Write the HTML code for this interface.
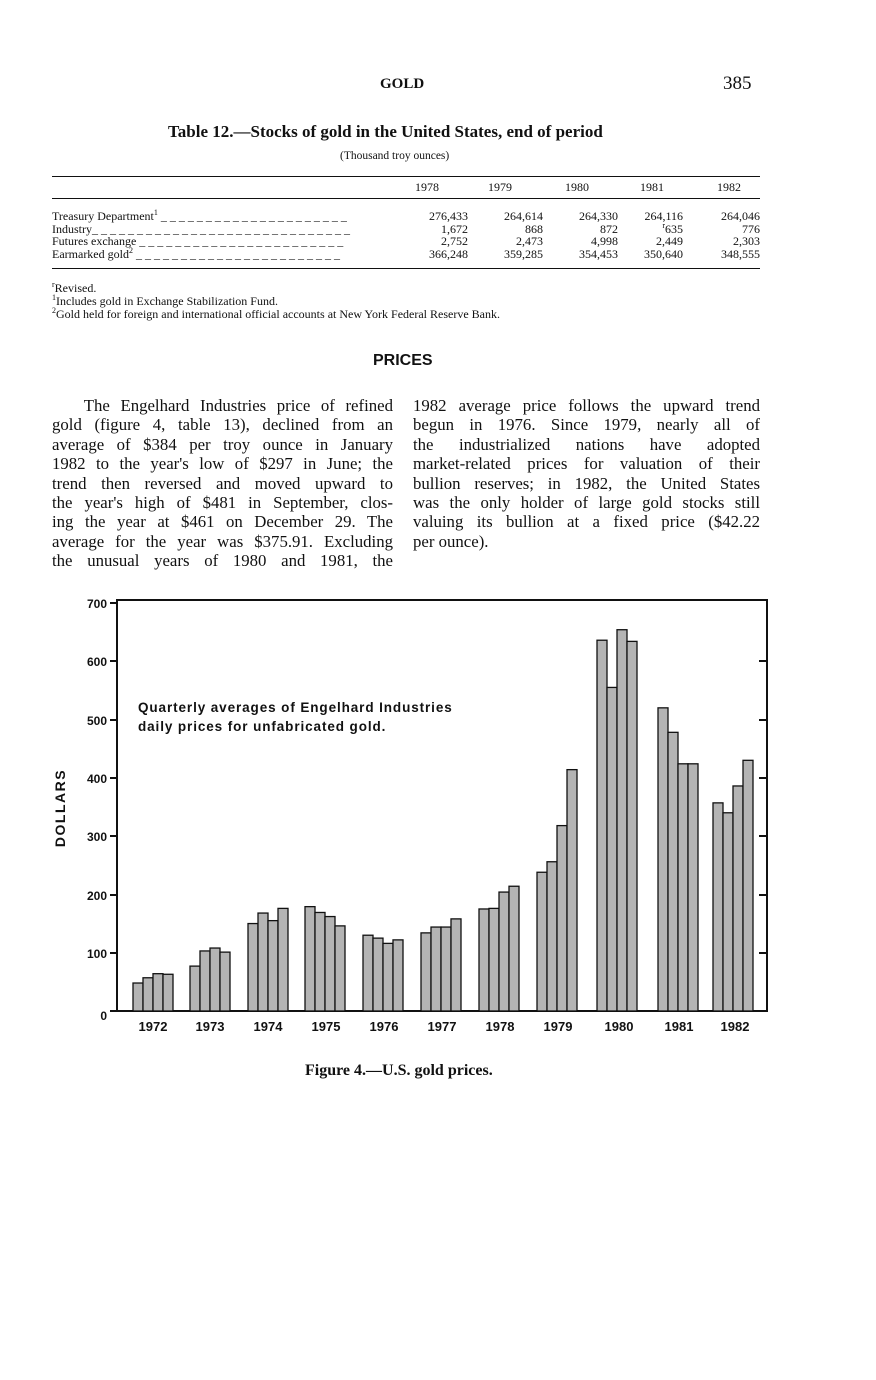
<!DOCTYPE html>
<html><head><meta charset="utf-8"><style>
body{margin:0;width:876px;height:1380px;background:#fff;position:relative;font-family:"Liberation Serif",serif;color:#111;overflow:hidden}
.a{position:absolute;white-space:nowrap}
.col{position:absolute;font-size:16.8px;line-height:19.4px}
.col div{text-align:justify;text-align-last:justify;white-space:nowrap;height:19.4px}
.col div.l{text-align-last:left}
.tb{position:absolute;font-size:12px;line-height:12.5px;white-space:nowrap}
sup{font-size:8px;line-height:0;vertical-align:0;position:relative;top:-5px}
.s{font-family:"Liberation Sans",sans-serif;font-weight:bold}
</style></head><body>
<div class="a" style="left:380px;top:76px;font-size:15px;font-weight:bold">GOLD</div>
<div class="a" style="left:723px;top:73px;font-size:19px">385</div>
<div class="a" style="left:168px;top:122px;font-size:17px;font-weight:bold">Table 12.—Stocks of gold in the United States, end of period</div>
<div class="a" style="left:340px;top:150px;font-size:11.5px">(Thousand troy ounces)</div>
<div style="position:absolute;left:52px;top:176px;width:708px;border-top:1.5px solid #111"></div>
<div style="position:absolute;left:52px;top:198px;width:708px;border-top:1.5px solid #111"></div>
<div style="position:absolute;left:52px;top:268px;width:708px;border-top:1.5px solid #111"></div>
<div class="tb" style="left:380px;top:181px;width:380px">
<span class="a" style="left:35px">1978</span><span class="a" style="left:108px">1979</span><span class="a" style="left:185px">1980</span><span class="a" style="left:260px">1981</span><span class="a" style="left:337px">1982</span></div>
<div class="tb" style="left:52px;top:210px">Treasury Department<sup>1</sup> _ _ _ _ _ _ _ _ _ _ _ _ _ _ _ _ _ _ _ _ _<br>Industry_ _ _ _ _ _ _ _ _ _ _ _ _ _ _ _ _ _ _ _ _ _ _ _ _ _ _ _ _<br>Futures exchange _ _ _ _ _ _ _ _ _ _ _ _ _ _ _ _ _ _ _ _ _ _ _<br>Earmarked gold<sup>2</sup> _ _ _ _ _ _ _ _ _ _ _ _ _ _ _ _ _ _ _ _ _ _ _</div>
<div class="tb" style="left:390px;top:210px;width:78px;text-align:right">276,433<br>1,672<br>2,752<br>366,248</div>
<div class="tb" style="left:470px;top:210px;width:73px;text-align:right">264,614<br>868<br>2,473<br>359,285</div>
<div class="tb" style="left:545px;top:210px;width:73px;text-align:right">264,330<br>872<br>4,998<br>354,453</div>
<div class="tb" style="left:620px;top:210px;width:63px;text-align:right">264,116<br><sup>r</sup>635<br>2,449<br>350,640</div>
<div class="tb" style="left:690px;top:210px;width:70px;text-align:right">264,046<br>776<br>2,303<br>348,555</div>
<div class="tb" style="left:52px;top:282px;line-height:13px"><sup>r</sup>Revised.<br><sup>1</sup>Includes gold in Exchange Stabilization Fund.<br><sup>2</sup>Gold held for foreign and international official accounts at New York Federal Reserve Bank.</div>
<div class="a s" style="left:373px;top:352px;font-size:16px">PRICES</div>
<div class="col" style="left:52px;top:396px;width:341px">
<div>&nbsp;&nbsp;&nbsp;The Engelhard Industries price of refined</div>
<div>gold (figure 4, table 13), declined from an</div>
<div>average of $384 per troy ounce in January</div>
<div>1982 to the year's low of $297 in June; the</div>
<div>trend then reversed and moved upward to</div>
<div>the year's high of $481 in September, clos-</div>
<div>ing the year at $461 on December 29. The</div>
<div>average for the year was $375.91. Excluding</div>
<div>the unusual years of 1980 and 1981, the</div>
</div>
<div class="col" style="left:413px;top:396px;width:347px">
<div>1982 average price follows the upward trend</div>
<div>begun in 1976. Since 1979, nearly all of</div>
<div>the industrialized nations have adopted</div>
<div>market-related prices for valuation of their</div>
<div>bullion reserves; in 1982, the United States</div>
<div>was the only holder of large gold stocks still</div>
<div>valuing its bullion at a fixed price ($42.22</div>
<div class="l">per ounce).</div>
</div>
<svg width="876" height="1380" style="position:absolute;left:0;top:0" font-family="Liberation Sans,sans-serif">
<g stroke="#111" stroke-width="2" fill="none">
<path d="M117 600 L767 600 L767 1011 L117 1011 Z"/>
<path d="M110 603H117M110 661H117M110 720H117M110 778H117M110 836H117M110 895H117M110 953H117M110 1011H117"/>
<path d="M759 661H767M759 720H767M759 778H767M759 836H767M759 895H767M759 953H767"/>
</g>
<g font-size="12" font-weight="bold" text-anchor="end" fill="#111">
<text x="107" y="608">700</text><text x="107" y="666">600</text><text x="107" y="725">500</text><text x="107" y="783">400</text><text x="107" y="841">300</text><text x="107" y="900">200</text><text x="107" y="958">100</text><text x="107" y="1020">0</text>
</g>
<text transform="translate(65,808) rotate(-90)" text-anchor="middle" font-size="14" font-weight="bold" fill="#111" letter-spacing="1.5">DOLLARS</text>
<text x="138" y="712" font-size="13.5" font-weight="bold" fill="#111" letter-spacing="0.9">Quarterly averages of Engelhard Industries</text>
<text x="138" y="731" font-size="13.5" font-weight="bold" fill="#111" letter-spacing="0.9">daily prices for unfabricated gold.</text>
<g id="bars" fill="#b4b4b4" stroke="#111" stroke-width="1.3"></g>
<g font-size="13" font-weight="bold" text-anchor="middle" fill="#111">
<text x="153" y="1031">1972</text><text x="210" y="1031">1973</text><text x="268" y="1031">1974</text><text x="326" y="1031">1975</text><text x="384" y="1031">1976</text><text x="442" y="1031">1977</text><text x="500" y="1031">1978</text><text x="558" y="1031">1979</text><text x="619" y="1031">1980</text><text x="679" y="1031">1981</text><text x="735" y="1031">1982</text>
</g>
</svg>
<div class="a" style="left:305px;top:1062px;font-size:16px;font-weight:bold">Figure 4.—U.S. gold prices.</div>
<script>
var d=[[133,[48,57,64,63]],[190,[77,103,108,101]],[248,[150,168,155,176]],[305,[179,169,162,146]],[363,[130,125,116,122]],[421,[134,144,144,158]],[479,[175,176,204,214]],[537,[238,256,318,414]],[597,[636,555,654,634]],[658,[520,478,424,424]],[713,[357,340,386,430]]];
var g=document.getElementById('bars'),s='';
d.forEach(function(e){e[1].forEach(function(v,i){var h=v*0.583;s+='<rect x="'+(e[0]+i*10)+'" y="'+(1011-h)+'" width="10" height="'+h+'"/>';});});
g.innerHTML=s;
</script>
</body></html>
